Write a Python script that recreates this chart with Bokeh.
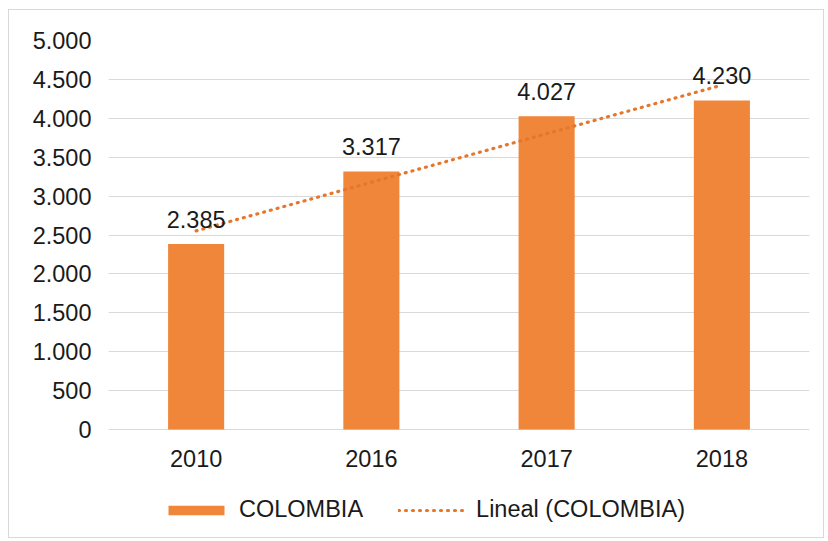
import numpy as np
from bokeh.plotting import figure
from bokeh.models import FactorRange, Range1d, Legend, LegendItem, FixedTicker, ColumnDataSource
from bokeh.core.properties import value
from bokeh.embed import file_html
from bokeh.resources import INLINE

years = ["2010", "2016", "2017", "2018"]
colombia = [2385, 3317, 4027, 4230]
y_ticks = [0, 500, 1000, 1500, 2000, 2500, 3000, 3500, 4000, 4500, 5000]

def fmt(v):
    return f"{v:,}".replace(",", ".")

# linear trendline (Excel "Lineal") over category index 1..n
idx = np.arange(1, len(colombia) + 1)
slope, intercept = np.polyfit(idx, colombia, 1)
trend = list(slope * idx + intercept)

ORANGE = "#F0863A"
TEXT = "#1a1a1a"
FONT = "Liberation Sans"
FS = "23.5px"

W, H = 816, 529
TOP, LEFT, RIGHT = 30, 99, 16
ZERO_PX = 419                      # canvas y of the value 0
plot_h = ZERO_PX - TOP              # pixels for 0..5000
y_start = -5000 * (H - ZERO_PX) / plot_h   # room below 0 for labels and legend

p = figure(x_range=FactorRange(*years, range_padding=0),
           y_range=Range1d(y_start, 5000),
           width=W, height=H, output_backend="svg", toolbar_location=None,
           min_border_left=LEFT, min_border_right=RIGHT, min_border_top=TOP, min_border_bottom=0)
p.styles = {"margin-left": "8px", "margin-top": "9px", "border": "1px solid #d8d8d8"}
p.outline_line_color = None
p.background_fill_color = "white"
p.border_fill_color = "white"

src = ColumnDataSource(dict(x=years, y=colombia, lab=[fmt(v) for v in colombia],
                            zero=[0] * len(years)))
bars = p.vbar(x="x", top="y", width=0.32, source=src, fill_color=ORANGE, line_color=None)
trend_r = p.line(x=years, y=trend, line_color="#E6762C", line_width=3.2, line_dash="1 6", line_cap="round")
p.text(x="x", y="y", text="lab", source=src, text_align="center", text_baseline="bottom",
       y_offset=-16, text_font=value(FONT), text_font_size=FS, text_color=TEXT)
# category labels under the baseline
p.text(x="x", y="zero", text="x", source=src, text_align="center", text_baseline="middle",
       y_offset=29, text_font=value(FONT), text_font_size=FS, text_color=TEXT)

p.xaxis.visible = False
p.yaxis.ticker = FixedTicker(ticks=y_ticks)
p.yaxis.major_label_overrides = {t: fmt(t) for t in y_ticks}
ax = p.yaxis[0]
ax.axis_line_color = None
ax.major_tick_line_color = None
ax.minor_tick_line_color = None
ax.major_tick_out = 0
ax.major_tick_in = 0
ax.major_label_text_font = FONT
ax.major_label_text_font_size = FS
ax.major_label_text_color = TEXT
ax.major_label_standoff = 17
p.xgrid.grid_line_color = None
p.ygrid.grid_line_color = "#d9d9d9"
p.ygrid.grid_line_width = 1

legend = Legend(items=[LegendItem(label="COLOMBIA", renderers=[bars]),
                       LegendItem(label="Lineal (COLOMBIA)", renderers=[trend_r])],
                orientation="horizontal", location=(53, 16),
                label_text_font=FONT, label_text_font_size=FS, label_text_color=TEXT,
                glyph_width=70, glyph_height=12, spacing=35, label_standoff=8,
                border_line_color=None, background_fill_alpha=0, padding=0, margin=0)
p.add_layout(legend, "center")

open("out.html", "w").write(file_html(p, INLINE))
